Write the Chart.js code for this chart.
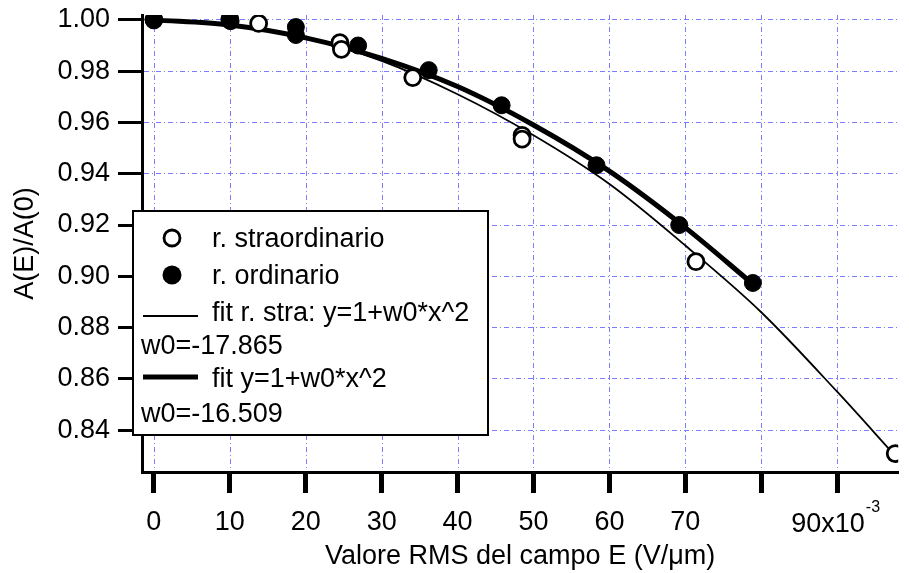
<!DOCTYPE html>
<html>
<head>
<meta charset="utf-8">
<script src="https://cdn.jsdelivr.net/npm/chart.js@4/dist/chart.umd.min.js"></script>
<style>
  html, body { margin: 0; padding: 0; background: #fff; }
  #wrap { width: 909px; height: 573px; }
</style>
</head>
<body>
<div id="wrap"><canvas id="c" width="909" height="573"></canvas></div>
<script>
// x values in units of 1e-3 V/um (axis reads "x10^-3")
// r. straordinario (open circles)
const straX = [0, 10, 13.8, 24.5, 24.7, 34.1, 48.5, 48.5, 71.4, 97.65];
const straY = [1.000, 1.000, 0.9986, 0.9911, 0.9885, 0.9775, 0.9550, 0.9535, 0.9057, 0.8309];
// r. ordinario (filled circles)
const ordX = [0, 10.0, 10.1, 18.7, 18.7, 26.9, 36.2, 45.8, 58.3, 69.2, 78.9];
const ordY = [1.000, 1.0005, 0.9995, 0.9972, 0.9941, 0.9900, 0.9804, 0.9667, 0.9433, 0.9200, 0.8974];
// fit curves
const fitStraX = [0, 10, 20, 30, 40, 50, 60, 70, 80, 90, 97.65];
const fitStraY = [1.000, 0.998, 0.993, 0.984, 0.971, 0.955, 0.936, 0.912, 0.886, 0.855, 0.830];
const fitOrdX = [0, 10, 20, 30, 40, 50, 60, 70, 78.9];
const fitOrdY = [1.000, 0.998, 0.993, 0.985, 0.974, 0.959, 0.941, 0.919, 0.897];

const xTicks = [0, 10, 20, 30, 40, 50, 60, 70, 80, 90];
const yTicks = [0.84, 0.86, 0.88, 0.90, 0.92, 0.94, 0.96, 0.98, 1.00];
const expLabel = ['90x10', '-3'];
const legendLabels = ['r. straordinario', 'r. ordinario', 'fit r. stra: y=1+w0*x^2', 'w0=-17.865', 'fit y=1+w0*x^2', 'w0=-16.509'];

const FONT = '"Liberation Sans", Arial, Helvetica, sans-serif';
const FS = 27;
const gridCol = 'rgba(110,110,255,0.9)';
const pts = (xs, ys) => xs.map((x, i) => ({x: x, y: ys[i]}));

// vertical dash-dot grid, drawn from the x scale
const vgrid = {
  id: 'vgrid',
  beforeDatasetsDraw(chart) {
    const ctx = chart.ctx, xs = chart.scales.x, a = chart.chartArea;
    ctx.save();
    ctx.strokeStyle = gridCol;
    ctx.lineWidth = 1;
    ctx.setLineDash([5, 3, 1, 3]);
    xTicks.forEach(v => {
      const px = Math.round(xs.getPixelForValue(v)) + 0.5;
      ctx.beginPath(); ctx.moveTo(px, a.top); ctx.lineTo(px, a.bottom - 2); ctx.stroke();
    });
    ctx.restore();
  }
};

// legend box + the "90x10^-3" tick label, drawn over the plot
const overlay = {
  id: 'overlay',
  afterDraw(chart) {
    const ctx = chart.ctx;
    const xs = chart.scales.x;
    ctx.save();
    ctx.fillStyle = '#000';
    ctx.textAlign = 'left';
    ctx.textBaseline = 'alphabetic';

    const px = xs.getPixelForValue(90);
    ctx.font = FS + 'px ' + FONT;
    const w1 = ctx.measureText(expLabel[0]).width;
    ctx.font = '16px ' + FONT;
    const w2 = ctx.measureText(expLabel[1]).width;
    const x0 = px - (w1 + w2) / 2 - 2;
    ctx.font = FS + 'px ' + FONT;
    ctx.fillText(expLabel[0], x0, 532);
    ctx.font = '16px ' + FONT;
    ctx.fillText(expLabel[1], x0 + w1 + 1, 512);

    // legend
    ctx.fillStyle = '#fff';
    ctx.fillRect(133, 211, 355, 224);
    ctx.strokeStyle = '#000';
    ctx.lineWidth = 2;
    ctx.strokeRect(133, 211, 355, 224);

    ctx.lineWidth = 2.8;
    ctx.beginPath(); ctx.arc(172, 238, 8, 0, Math.PI * 2); ctx.stroke();
    ctx.fillStyle = '#000';
    ctx.beginPath(); ctx.arc(172, 275, 9.5, 0, Math.PI * 2); ctx.fill();

    ctx.lineWidth = 1.8;
    ctx.beginPath(); ctx.moveTo(143, 316); ctx.lineTo(198, 316); ctx.stroke();
    ctx.lineWidth = 5;
    ctx.beginPath(); ctx.moveTo(143, 377); ctx.lineTo(198, 377); ctx.stroke();

    ctx.font = FS + 'px ' + FONT;
    ctx.fillText(legendLabels[0], 212, 247);
    ctx.fillText(legendLabels[1], 212, 284);
    ctx.fillText(legendLabels[2], 212, 321);
    ctx.fillText(legendLabels[3], 141, 354);
    ctx.fillText(legendLabels[4], 212, 387);
    ctx.fillText(legendLabels[5], 141, 422);
    ctx.restore();
  }
};

new Chart(document.getElementById('c').getContext('2d'), {
  type: 'scatter',
  data: {
    datasets: [
      { label: legendLabels[0], data: pts(straX, straY), showLine: false,
        pointStyle: 'circle', pointRadius: 8, pointBorderWidth: 2.8,
        pointBorderColor: '#000', pointBackgroundColor: '#fff', order: 1 },
      { label: legendLabels[1], data: pts(ordX, ordY), showLine: false,
        pointStyle: 'circle', pointRadius: 8.5, pointBorderWidth: 1,
        pointBorderColor: '#000', pointBackgroundColor: '#000', order: 0 },
      { label: legendLabels[2], data: pts(fitStraX, fitStraY), showLine: true,
        borderColor: '#000', borderWidth: 1.8, pointRadius: 0,
        cubicInterpolationMode: 'monotone', order: 3 },
      { label: legendLabels[4], data: pts(fitOrdX, fitOrdY), showLine: true,
        borderColor: '#000', borderWidth: 5, pointRadius: 0,
        cubicInterpolationMode: 'monotone', order: 2 }
    ]
  },
  options: {
    responsive: false,
    animation: false,
    devicePixelRatio: 1,
    layout: { padding: { top: 15, right: 3, left: 0, bottom: 0 } },
    plugins: { legend: { display: false }, tooltip: { enabled: false } },
    scales: {
      x: {
        type: 'linear', min: -1.565, max: 98.04,
        afterBuildTicks: s => { s.ticks = xTicks.map(v => ({value: v})); },
        afterFit: s => { s.height = 101; s.paddingLeft = 0; s.paddingRight = 0; },
        ticks: { color: '#000', font: {family: FONT, size: FS}, padding: 13,
                 maxRotation: 0, autoSkip: false,
                 callback: v => (v >= 80 ? '' : String(v)) },
        grid: { drawOnChartArea: false, drawTicks: true,
                tickColor: '#000', tickWidth: 5, tickLength: 21 },
        border: { display: true, color: '#000', width: 3 },
        title: { display: true, text: 'Valore RMS del campo E (V/μm)', color: '#000',
                 font: {family: FONT, size: FS}, padding: {top: 0, bottom: 0} }
      },
      y: {
        type: 'linear', min: 0.8237, max: 1.0019,
        afterBuildTicks: s => { s.ticks = yTicks.map(v => ({value: v})); },
        afterFit: s => { s.width = 142; s.paddingTop = 0; s.paddingBottom = 0; },
        ticks: { color: '#000', font: {family: FONT, size: FS}, padding: 8,
                 callback: v => v.toFixed(2) },
        grid: { color: gridCol, lineWidth: 1, drawTicks: true,
                tickColor: '#000', tickWidth: 3, tickLength: 24 },
        border: { display: true, color: '#000', width: 3, dash: [5, 3, 1, 3] },
        title: { display: true, text: 'A(E)/A(0)', color: '#000',
                 font: {family: FONT, size: FS}, padding: {top: 9, bottom: 0} }
      }
    }
  },
  plugins: [vgrid, overlay]
});
</script>
</body>
</html>
